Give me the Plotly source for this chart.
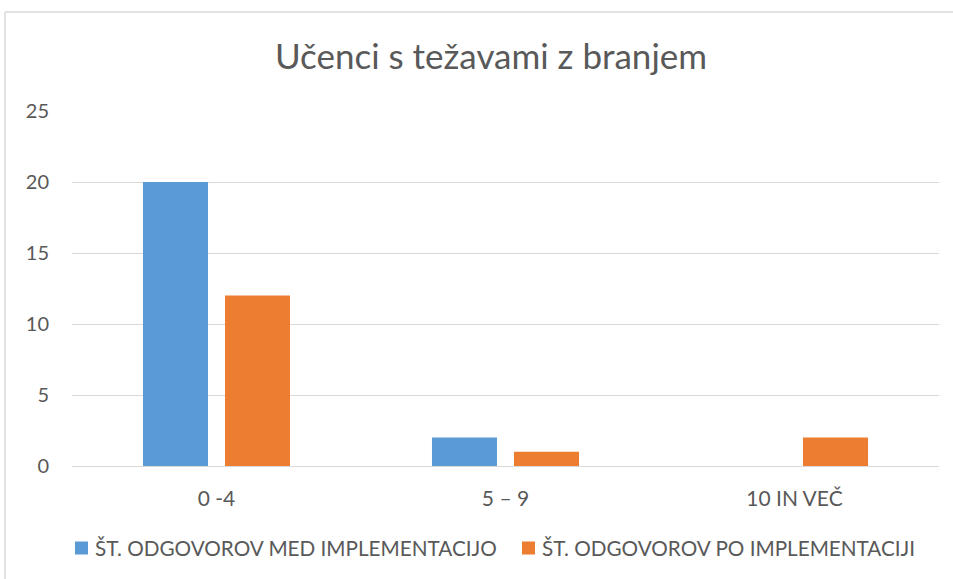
import plotly.graph_objects as go

categories = ["0 -4", "5 – 9", "10 IN VEČ"]
series_med = [20, 2, 0]
series_po = [12, 1, 2]
series_names = ["ŠT. ODGOVOROV MED IMPLEMENTACIJO", "ŠT. ODGOVOROV PO IMPLEMENTACIJI"]
series_colors = ["#5B9BD5", "#ED7D31"]
y_ticks = [0, 5, 10, 15, 20, 25]
title_text = "Učenci s težavami z branjem"

FONT = "Lato, sans-serif"
GRAY = "#595959"

fig = go.Figure()
fig.add_trace(go.Bar(x=categories, y=series_med, name=series_names[0],
                     marker=dict(color=series_colors[0], line=dict(width=0))))
fig.add_trace(go.Bar(x=categories, y=series_po, name=series_names[1],
                     marker=dict(color=series_colors[1], line=dict(width=0))))

W, H = 953, 579
L, R, T, B = 72, 14, 111, 113
pw, ph = W - L - R, H - T - B

def px_x(px):
    return (px - L) / pw

def px_y(py):
    return (H - B - py) / ph

fig.update_layout(
    width=W, height=H,
    margin=dict(l=L, r=R, t=T, b=B, autoexpand=False),
    paper_bgcolor="white", plot_bgcolor="white",
    font=dict(family=FONT, color=GRAY, size=21),
    title=dict(text=title_text, xref="container", x=491 / W, xanchor="center",
               yref="container", y=1 - 57 / H, yanchor="middle",
               font=dict(size=35, color=GRAY, family=FONT)),
    barmode="group", bargap=0.4325, bargroupgap=0.207,
    showlegend=False,
    xaxis=dict(showgrid=False, showline=True, linecolor="#D9D9D9", linewidth=1,
               ticks="", tickfont=dict(size=21, color=GRAY),
               ticklabelstandoff=14, fixedrange=True),
    yaxis=dict(range=[0, 25], tickvals=y_ticks, showgrid=True,
               gridcolor="#D9D9D9", gridwidth=1, zeroline=False,
               showline=False, ticks="", tickfont=dict(size=20, color=GRAY),
               ticklabelstandoff=22, fixedrange=True),
)

# legend drawn at the bottom (square swatch + label per series)
legend_sq_x = [75, 522]
legend_cy = 548
for name, color, sx in zip(series_names, series_colors, legend_sq_x):
    fig.add_shape(type="rect", xref="paper", yref="paper",
                  x0=px_x(sx), x1=px_x(sx + 13),
                  y0=px_y(legend_cy + 6.5), y1=px_y(legend_cy - 6.5),
                  fillcolor=color, line=dict(width=0))
    fig.add_annotation(xref="paper", yref="paper", x=px_x(sx + 18), y=px_y(legend_cy),
                       xanchor="left", yanchor="middle", showarrow=False,
                       text=name, font=dict(size=20.7, color=GRAY, family=FONT))

# outer chart border (light gray frame partially visible)
fig.add_shape(type="line", xref="paper", yref="paper",
              x0=px_x(5), x1=px_x(953), y0=px_y(12), y1=px_y(12),
              line=dict(color="#D9D9D9", width=1.5))
fig.add_shape(type="line", xref="paper", yref="paper",
              x0=px_x(5), x1=px_x(5), y0=px_y(12), y1=px_y(579),
              line=dict(color="#D9D9D9", width=1.5))

fig.write_html("out.html", config={"displayModeBar": False, "staticPlot": True},
               post_script="document.body.style.margin='0px';document.body.style.overflow='hidden';")
